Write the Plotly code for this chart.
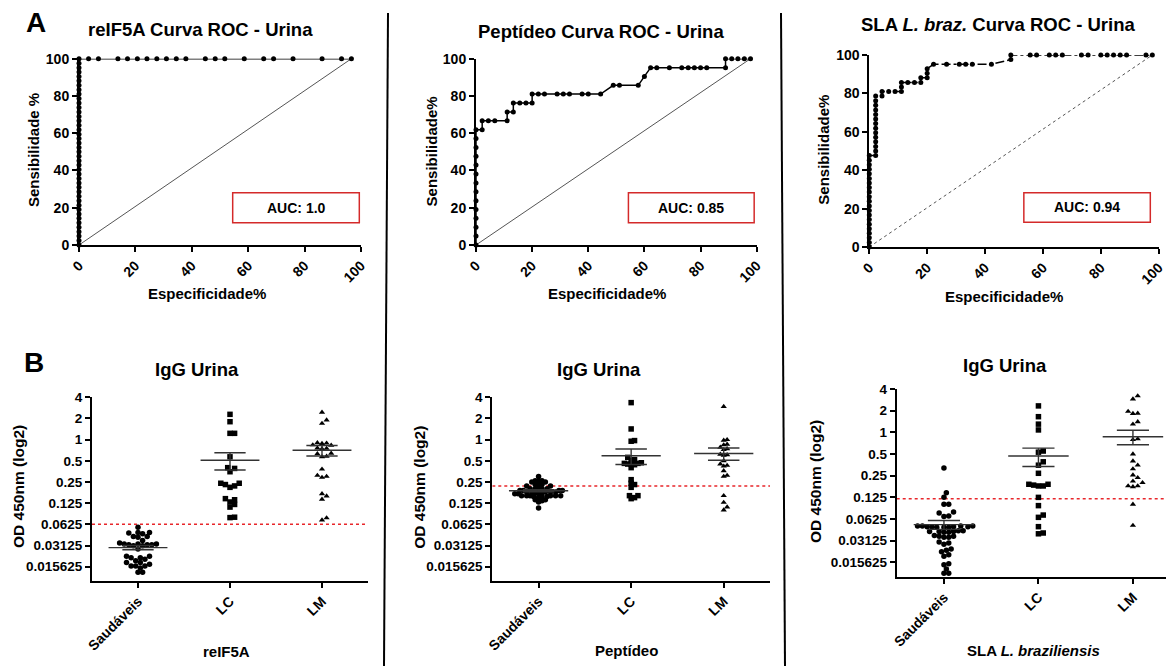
import numpy as np
import plotly.graph_objects as go

W, H = 1166, 666

# ---------------- ROC data (Especificidade%, Sensibilidade%) ----------------
roc1_spec = [0, 0, 0, 0, 0, 0, 0, 0, 0, 0, 0, 0, 0, 0, 0, 0, 0, 0, 0, 0, 0, 0,
             0, 0, 0, 0, 0, 0, 0, 0, 0, 0, 0, 0, 0, 0, 0, 0, 0, 0, 0, 0, 0,
             3.4, 6.9, 13.8, 17.2, 20.7, 24.1, 27.6, 31.0, 34.5, 37.9, 44.8,
             48.3, 51.7, 58.6, 65.5, 69.0, 75.9, 86.2, 93.1, 96.6]
roc1_sens = [0, 2.4, 4.8, 7.1, 9.5, 11.9, 14.3, 16.7, 19.0, 21.4, 23.8, 26.2,
             28.6, 31.0, 33.3, 35.7, 38.1, 40.5, 42.9, 45.2, 47.6, 50.0, 52.4,
             54.8, 57.1, 59.5, 61.9, 64.3, 66.7, 69.0, 71.4, 73.8, 76.2, 78.6,
             81.0, 83.3, 85.7, 88.1, 90.5, 92.9, 95.2, 97.6, 100,
             100, 100, 100, 100, 100, 100, 100, 100, 100, 100, 100,
             100, 100, 100, 100, 100, 100, 100, 100, 100]

roc2_spec = [0, 0, 0, 0, 0, 0, 0, 0, 0, 0, 0, 0, 0, 0,
             2.2, 2.2, 4.4, 6.7, 11.1, 11.1, 13.3, 13.3, 15.6, 17.8, 20.0, 20.0,
             22.2, 24.4, 28.9, 31.1, 33.3, 37.8, 40.0, 44.4, 48.9, 51.1, 57.8,
             60.0, 62.2, 64.4, 68.9, 73.3, 75.6, 77.8, 80.0, 82.2, 88.9, 88.9,
             91.1, 93.3, 95.6, 97.8]
roc2_sens = [0, 4.8, 9.5, 14.3, 19.0, 23.8, 28.6, 33.3, 38.1, 42.9, 47.6, 52.4, 57.1, 61.9,
             61.9, 66.7, 66.7, 66.7, 66.7, 71.4, 71.4, 76.2, 76.2, 76.2, 76.2, 81.0,
             81.0, 81.0, 81.0, 81.0, 81.0, 81.0, 81.0, 81.0, 85.7, 85.7, 85.7,
             90.5, 95.2, 95.2, 95.2, 95.2, 95.2, 95.2, 95.2, 95.2, 95.2, 100,
             100, 100, 100, 100]

roc3_spec = [0, 0, 0, 0, 0, 0, 0, 0, 0, 0, 0, 0, 0, 0, 0, 0, 0, 0, 0, 0, 0,
             2.2, 2.2, 2.2, 2.2, 2.2, 2.2, 2.2, 2.2, 2.2, 2.2, 2.2, 2.2, 2.2, 2.2,
             4.4, 4.4, 6.7, 8.9, 11.1, 11.1, 11.1, 13.3, 15.6, 17.8, 17.8, 20.0,
             20.0, 20.0, 22.2, 26.7, 31.1, 33.3, 35.6, 42.2, 48.9, 48.9, 55.6,
             57.8, 62.2, 64.4, 66.7, 73.3, 75.6, 80.0, 82.2, 84.4, 86.7, 88.9,
             95.6, 97.8]
roc3_sens = [0, 2.4, 4.8, 7.1, 9.5, 11.9, 14.3, 16.7, 19.0, 21.4, 23.8, 26.2,
             28.6, 31.0, 33.3, 35.7, 38.1, 40.5, 42.9, 45.2, 47.6,
             47.6, 50.0, 52.4, 54.8, 57.1, 59.5, 61.9, 64.3, 66.7, 69.0, 71.4, 73.8, 76.2, 78.6,
             78.6, 81.0, 81.0, 81.0, 81.0, 83.3, 85.7, 85.7, 85.7, 85.7, 88.1, 88.1,
             90.5, 92.9, 95.2, 95.2, 95.2, 95.2, 95.2, 95.2, 97.6, 100, 100,
             100, 100, 100, 100, 100, 100, 100, 100, 100, 100, 100,
             100, 100]

auc_labels = ["AUC: 1.0", "AUC: 0.85", "AUC: 0.94"]

# ---------------- Dot plot data (OD 450nm) ----------------
groups = ["Saudáveis", "LC", "LM"]

b1_saud = [0.057, 0.048, 0.047, 0.046, 0.048, 0.042, 0.041, 0.042, 0.037, 0.033, 0.032,
           0.031, 0.032, 0.033, 0.031, 0.032, 0.034, 0.033, 0.028, 0.022, 0.021, 0.022,
           0.020, 0.021, 0.018, 0.019, 0.018, 0.017, 0.016, 0.016, 0.015, 0.016, 0.013, 0.013]
b1_lc = [2.29, 1.80, 1.23, 1.23, 0.57, 0.39, 0.40, 0.35, 0.24, 0.23, 0.22, 0.24, 0.21,
         0.145, 0.14, 0.12, 0.11, 0.13, 0.078, 0.079]
b1_lm = [2.45, 1.90, 1.70, 0.90, 0.88, 0.89, 0.84, 0.83, 0.76, 0.74, 0.75, 0.63, 0.64,
         0.57, 0.58, 0.38, 0.30, 0.31, 0.29, 0.17, 0.158, 0.142, 0.077, 0.072]

b2_saud = [0.30, 0.26, 0.25, 0.26, 0.25, 0.26, 0.23, 0.23, 0.22, 0.23, 0.22, 0.20, 0.20,
           0.19, 0.20, 0.19, 0.20, 0.19, 0.20, 0.19, 0.18, 0.18, 0.175, 0.18, 0.17, 0.18,
           0.17, 0.18, 0.17, 0.175, 0.16, 0.16, 0.155, 0.16, 0.155, 0.16, 0.15, 0.16,
           0.155, 0.16, 0.14, 0.135, 0.13, 0.14, 0.107]
b2_lc = [3.36, 1.42, 0.97, 0.95, 0.56, 0.52, 0.51, 0.46, 0.45, 0.46, 0.44, 0.45, 0.47,
         0.40, 0.27, 0.24, 0.23, 0.21, 0.16, 0.16, 0.145, 0.15]
b2_lm = [2.95, 1.0, 0.98, 0.86, 0.84, 0.74, 0.72, 0.78, 0.62, 0.60, 0.61, 0.50, 0.45,
         0.43, 0.42, 0.36, 0.31, 0.30, 0.16, 0.128, 0.11, 0.10]

b3_saud = [0.32, 0.145, 0.125, 0.10, 0.10, 0.078, 0.076, 0.069, 0.068, 0.050, 0.049,
           0.048, 0.049, 0.050, 0.048, 0.049, 0.050, 0.048, 0.049, 0.050, 0.043, 0.042,
           0.041, 0.042, 0.043, 0.042, 0.041, 0.036, 0.035, 0.037, 0.036, 0.035, 0.029,
           0.028, 0.030, 0.023, 0.022, 0.024, 0.020, 0.019, 0.015, 0.0145, 0.0126, 0.011, 0.011]
b3_lc = [2.33, 1.65, 1.30, 1.08, 0.55, 0.53, 0.39, 0.35, 0.27, 0.19, 0.18, 0.185, 0.19,
         0.18, 0.125, 0.096, 0.071, 0.066, 0.049, 0.040, 0.039]
b3_lm = [3.2, 2.9, 1.95, 1.82, 1.84, 1.40, 1.30, 0.81, 0.79, 0.50, 0.40, 0.35, 0.31,
         0.255, 0.235, 0.21, 0.20, 0.18, 0.18, 0.175, 0.10, 0.051]

cutoffs = [0.0625, 0.22, 0.12]

od_ticks = [0.015625, 0.03125, 0.0625, 0.125, 0.25, 0.5, 1, 2, 4]
od_ticktext = ["0.015625", "0.03125", "0.0625", "0.125", "0.25", "0.5", "1", "2", "4"]
roc_ticks = [0, 20, 40, 60, 80, 100]

# ---------------- helpers ----------------
FONT = "Liberation Sans, Arial, sans-serif"


def px(x):
    return x / W


def py(y):
    return 1 - y / H


def swarm(vals, ux, uy, d=5.0):
    yp = np.log2(np.asarray(vals, float)) * uy
    order = np.argsort(yp)
    placed = []
    off = np.zeros(len(yp))
    step = d * 0.5
    cands = [0.0]
    for k in range(1, 80):
        cands += [k * step, -k * step]
    for i in order:
        chosen = 0.0
        for c in cands:
            if all((c - qx) ** 2 + (yp[i] - qy) ** 2 >= d * d for qx, qy in placed):
                chosen = c
                break
        off[i] = chosen
        placed.append((chosen, yp[i]))
    return off / ux


fig = go.Figure()

# ---------------- ROC panels ----------------
roc_sets = [(roc1_spec, roc1_sens, "solid", "solid"),
            (roc2_spec, roc2_sens, "solid", "solid"),
            (roc3_spec, roc3_sens, "dashdot", "dot")]
for k, (spec, sens, cdash, ddash) in enumerate(roc_sets):
    xa = "x" if k == 0 else f"x{k + 1}"
    ya = "y" if k == 0 else f"y{k + 1}"
    fig.add_trace(go.Scatter(x=[0, spec[-1]], y=[0, sens[-1]], mode="lines",
                             line=dict(color="#555555", width=1, dash=ddash),
                             xaxis=xa, yaxis=ya, hoverinfo="skip", cliponaxis=False))
    fig.add_trace(go.Scatter(x=spec, y=sens, mode="lines+markers",
                             line=dict(color="black", width=1.5, dash=cdash),
                             marker=dict(symbol="circle", size=5, color="black"),
                             xaxis=xa, yaxis=ya, cliponaxis=False))

# ---------------- dot plot panels ----------------
dot_sets = [(b1_saud, b1_lc, b1_lm), (b2_saud, b2_lc, b2_lm), (b3_saud, b3_lc, b3_lm)]
px_per_unit = [92.0, 92.6, 94.5]
px_per_log2 = [21.18, 21.18, 21.67]
swarm_d = [4.6, 3.4, 4.8]
x_max = [2.5, 2.5, 2.35]
symbols = ["circle", "square", "triangle-up"]
for k, sets in enumerate(dot_sets):
    xa = f"x{k + 4}"
    ya = f"y{k + 4}"
    fig.add_trace(go.Scatter(x=[-0.5, x_max[k]], y=[cutoffs[k], cutoffs[k]], mode="lines",
                             line=dict(color="#e8262b", width=1.5, dash="dot"),
                             xaxis=xa, yaxis=ya, hoverinfo="skip"))
    for gi, vals in enumerate(sets):
        off = swarm(vals, px_per_unit[k], px_per_log2[k], swarm_d[k])
        fig.add_trace(go.Scatter(x=gi + off, y=vals, mode="markers",
                                 marker=dict(symbol=symbols[gi], size=5.5, color="black"),
                                 xaxis=xa, yaxis=ya, cliponaxis=False))
        m = float(np.mean(vals))
        s = float(np.std(vals, ddof=1) / np.sqrt(len(vals)))
        hw, cw = 0.32, 0.17
        lx = [gi - hw, gi + hw, None, gi - cw, gi + cw, None, gi - cw, gi + cw, None, gi, gi]
        ly = [m, m, None, m + s, m + s, None, m - s, m - s, None, m - s, m + s]
        fig.add_trace(go.Scatter(x=lx, y=ly, mode="lines",
                                 line=dict(color="#333333", width=1.4),
                                 xaxis=xa, yaxis=ya, hoverinfo="skip"))

# ---------------- axes ----------------
tickfont = dict(family=FONT, size=14, color="black", weight="bold")
base = dict(showline=True, linecolor="black", linewidth=2, ticks="outside", ticklen=5,
            tickwidth=2, tickcolor="black", showgrid=False, zeroline=False, tickfont=tickfont,
            automargin=False)

roc_dom_x = [(79, 361), (476, 756.7), (869.3, 1158.7)]
roc_dom_y = [(58.7, 245), (58.7, 245), (55, 247)]
bot_dom_x = [(92, 368), (492.3, 770), (896.7, 1166)]
bot_dom_y = [(397.3, 580.7), (397.3, 580.7), (389, 576.7)]

layout_axes = {}
for k in range(3):
    sx = "" if k == 0 else str(k + 1)
    anchor_x = "y" if k == 0 else f"y{k + 1}"
    anchor_y = "x" if k == 0 else f"x{k + 1}"
    layout_axes[f"xaxis{sx}"] = dict(base, domain=[px(roc_dom_x[k][0]), px(roc_dom_x[k][1])],
                                     range=[0, 100], tickvals=roc_ticks, tickangle=-45,
                                     anchor=anchor_x)
    layout_axes[f"yaxis{sx}"] = dict(base, domain=[py(roc_dom_y[k][1]), py(roc_dom_y[k][0])],
                                     range=[0, 100], tickvals=roc_ticks, anchor=anchor_y)
for k in range(3):
    n = k + 4
    layout_axes[f"xaxis{n}"] = dict(base, domain=[px(bot_dom_x[k][0]), px(bot_dom_x[k][1])],
                                    range=[-0.5, x_max[k]], tickvals=[0, 1, 2],
                                    ticktext=groups, tickangle=-45, anchor=f"y{n}")
    layout_axes[f"yaxis{n}"] = dict(base, domain=[py(bot_dom_y[k][1]), py(bot_dom_y[k][0])],
                                    type="log",
                                    range=[np.log10(2 ** -6.66), np.log10(4)],
                                    tickvals=od_ticks, ticktext=od_ticktext, anchor=f"x{n}",
                                    tickfont=dict(tickfont, size=13.5))

# ---------------- annotations ----------------
anns = []


def ann(text, x, y, size, angle=0):
    anns.append(dict(text=text, x=px(x), y=py(y), xref="paper", yref="paper",
                     showarrow=False, textangle=angle, xanchor="center", yanchor="middle",
                     font=dict(family=FONT, size=size, color="black", weight="bold")))


ann("A", 36, 23, 28)
ann("B", 34, 362, 28)
ann("reIF5A Curva ROC - Urina", 200, 30, 18.5)
ann("Peptídeo Curva ROC - Urina", 601, 31, 18.5)
ann("SLA <i>L. braz.</i> Curva ROC - Urina", 998, 25, 18.5)
ann("IgG Urina", 197, 369, 18.5)
ann("IgG Urina", 599, 369, 18.5)
ann("IgG Urina", 1005, 365, 18.5)
ann("Especificidade%", 207, 293, 15)
ann("Especificidade%", 607, 293, 15)
ann("Especificidade%", 1004, 296, 15)
ann("Sensibilidade %", 33.5, 150.5, 15, -90)
ann("Sensibilidade%", 431.7, 151.7, 15, -90)
ann("Sensibilidade%", 822.7, 150, 15, -90)
ann("OD 450nm (log2)", 18.3, 486.7, 15.5, -90)
ann("OD 450nm (log2)", 419.3, 487.5, 15.5, -90)
ann("OD 450nm (log2)", 815.3, 481.7, 15.5, -90)
ann("reIF5A", 226, 651.7, 15)
ann("Peptídeo", 626.7, 650.7, 15)
ann("SLA <i>L. braziliensis</i>", 1033.7, 650.7, 15)

auc_boxes = [(54.5, 99.4, 12.0, 28.1), (54.3, 99.1, 12.0, 28.1), (53.4, 97.1, 12.9, 28.3)]
shapes = []
for k, (x0, x1, y0, y1) in enumerate(auc_boxes):
    sx = "" if k == 0 else str(k + 1)
    shapes.append(dict(type="rect", xref=f"x{sx}", yref=f"y{sx}", x0=x0, x1=x1, y0=y0, y1=y1,
                       line=dict(color="#d42a2a", width=1.5), fillcolor="white", layer="above"))
    anns.append(dict(text=auc_labels[k], x=(x0 + x1) / 2, y=(y0 + y1) / 2,
                     xref=f"x{sx}", yref=f"y{sx}", showarrow=False,
                     font=dict(family=FONT, size=14, color="black", weight="bold")))

shapes.append(dict(type="line", xref="paper", yref="paper", x0=px(388), x1=px(384),
                   y0=py(13), y1=py(666), line=dict(color="black", width=2)))
shapes.append(dict(type="line", xref="paper", yref="paper", x0=px(781), x1=px(785),
                   y0=py(13), y1=py(666), line=dict(color="black", width=2)))

fig.update_layout(template="none", width=W, height=H, margin=dict(l=0, r=0, t=0, b=0),
                  paper_bgcolor="white", plot_bgcolor="white", showlegend=False,
                  annotations=anns, shapes=shapes, **layout_axes)

fig.write_html("out.html", config={"displayModeBar": False},
               post_script="document.body.style.margin='0px';"
                           "document.body.style.padding='0px';"
                           "document.body.style.overflow='hidden';")
